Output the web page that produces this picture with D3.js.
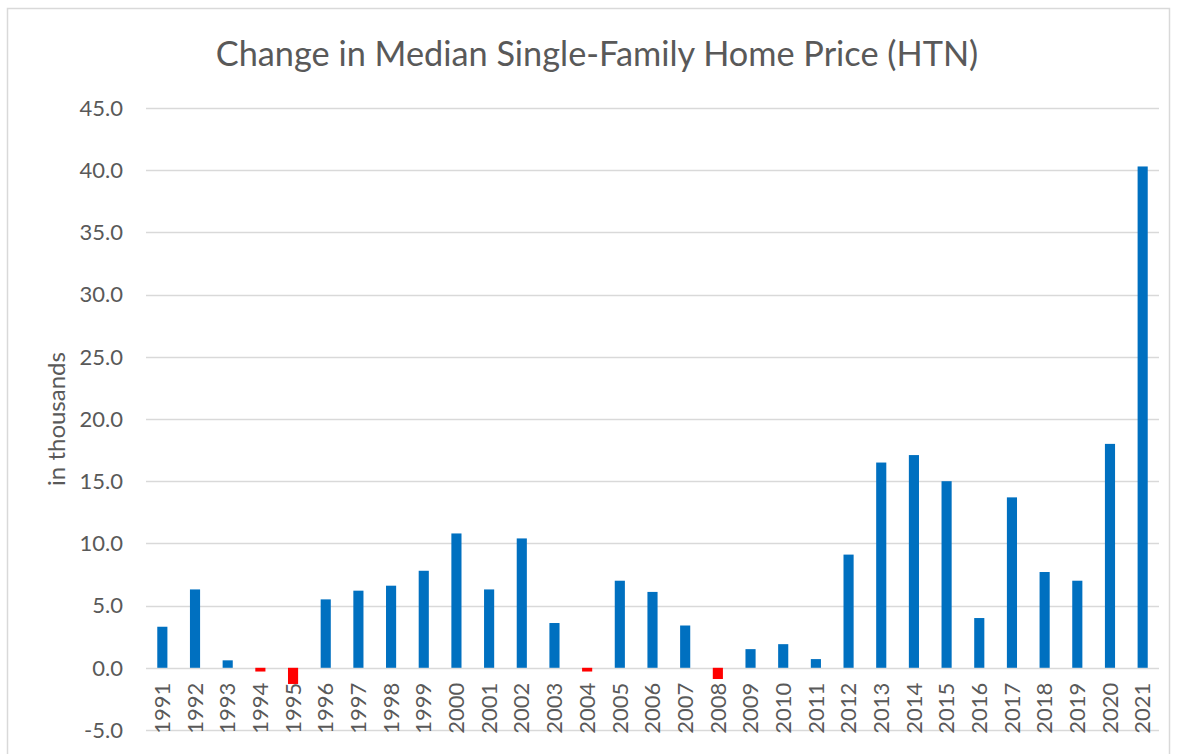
<!DOCTYPE html>
<html>
<head>
<meta charset="utf-8">
<script src="https://cdn.jsdelivr.net/npm/d3@7"></script>
<style>
  body { margin: 0; background: #fff; }
  text { font-family: Lato, "Open Sans", sans-serif; fill: #595959; }
</style>
</head>
<body>
<div id="chart"></div>
<script>
// yearly change, thousands of dollars
const years = ["1991","1992","1993","1994","1995","1996","1997","1998","1999","2000",
  "2001","2002","2003","2004","2005","2006","2007","2008","2009","2010",
  "2011","2012","2013","2014","2015","2016","2017","2018","2019","2020","2021"]
const changes = [3.3, 6.3, 0.6, -0.3, -1.3, 5.5, 6.2, 6.6, 7.8, 10.8,
  6.3, 10.4, 3.6, -0.3, 7.0, 6.1, 3.4, -0.9, 1.5, 1.9,
  0.7, 9.1, 16.5, 17.1, 15.0, 4.0, 13.7, 7.7, 7.0, 18.0, 40.3]
const yTicks = [-5, 0, 5, 10, 15, 20, 25, 30, 35, 40, 45]

const W = 1178, H = 754
const margin = {top: 108, right: 19, bottom: 24, left: 146}
const innerW = W - margin.left - margin.right
const innerH = H - margin.top - margin.bottom

var svg = d3.select("#chart").append("svg")
  .attr("width", W)
  .attr("height", H)

// chart border
svg.append("rect")
  .attr("x", 7.5).attr("y", 8.5)
  .attr("width", 1162).attr("height", 780)
  .attr("fill", "none")
  .attr("stroke", "#d9d9d9")
  .attr("stroke-width", 1.5)

svg.append("text")
  .attr("x", 597).attr("y", 66)
  .attr("text-anchor", "middle")
  .style("font-size", "34.3px")
  .text("Change in Median Single-Family Home Price (HTN)")

var g = svg.append("g")
  .attr("transform", "translate(" + margin.left + "," + margin.top + ")")

var x = d3.scaleBand()
  .domain(years)
  .range([0, innerW])
  .paddingInner(0.69)
  .paddingOuter(0.345)

var y = d3.scaleLinear()
  .domain([-5, 45])
  .range([innerH, 0])

// gridlines
g.append("g")
  .selectAll("line")
  .data(yTicks)
  .enter().append("line")
  .attr("x1", 0).attr("x2", innerW)
  .attr("y1", d => Math.round(y(d)) + 0.5)
  .attr("y2", d => Math.round(y(d)) + 0.5)
  .attr("stroke", "#d9d9d9")
  .attr("stroke-width", 1.3)

// y tick labels (hyphen minus like the original)
g.append("g")
  .selectAll("text")
  .data(yTicks)
  .enter().append("text")
  .attr("x", -23)
  .attr("y", d => y(d))
  .attr("dy", "0.35em")
  .attr("text-anchor", "end")
  .style("font-size", "22px")
  .text(d => d.toFixed(1))

// bars
g.append("g")
  .selectAll("rect")
  .data(changes)
  .enter().append("rect")
  .attr("x", (d, i) => x(years[i]))
  .attr("width", x.bandwidth())
  .attr("y", d => y(Math.max(0, d)))
  .attr("height", d => Math.abs(y(d) - y(0)))
  .attr("fill", d => d < 0 ? "#ff0000" : "#0070c0")

// year labels, rotated
g.append("g")
  .selectAll("text")
  .data(years)
  .enter().append("text")
  .attr("transform", d => "translate(" + (x(d) + x.bandwidth() / 2) + "," + (y(0) + 15) + ") rotate(-90)")
  .attr("dy", "0.35em")
  .attr("text-anchor", "end")
  .style("font-size", "22px")
  .text(d => d)

// axis title
svg.append("text")
  .attr("transform", "translate(57," + (margin.top + innerH / 2) + ") rotate(-90)")
  .attr("dy", "0.35em")
  .attr("text-anchor", "middle")
  .style("font-size", "24px")
  .text("in thousands")
</script>
</body>
</html>
